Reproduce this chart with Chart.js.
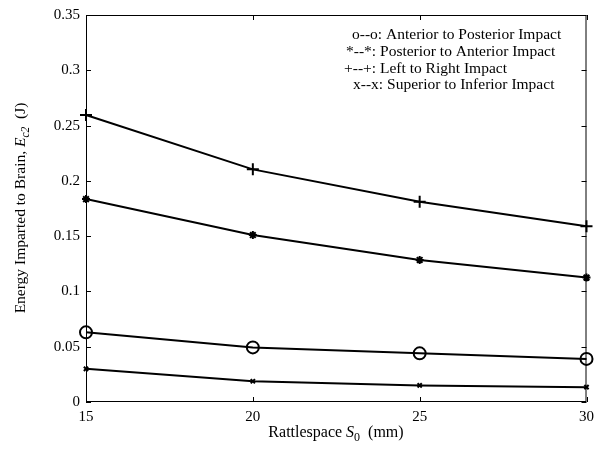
<!DOCTYPE html>
<html>
<head>
<meta charset="utf-8">
<script src="https://cdn.jsdelivr.net/npm/chart.js@4"></script>
<style>
  html, body { margin: 0; padding: 0; background: #fff; }
  #wrap { width: 600px; height: 450px; }
</style>
</head>
<body>
<div id="wrap"><canvas id="myChart"></canvas></div>
<script>
// rattlespace (mm)
var rattlespace = [15, 20, 25, 30];
// energy imparted to brain (J)
var anteriorPosterior = [0.063, 0.0494, 0.044, 0.039];
var posteriorAnterior = [0.1835, 0.151, 0.1285, 0.1125];
var leftRight = [0.2595, 0.2104, 0.1812, 0.159];
var superiorInferior = [0.030, 0.0188, 0.015, 0.0134];
var seriesLabels = [
  'o--o: Anterior to Posterior Impact',
  '*--*: Posterior to Anterior Impact',
  '+--+: Left to Right Impact',
  'x--x: Superior to Inferior Impact'
];
var yTicks = [0, 0.05, 0.1, 0.15, 0.2, 0.25, 0.3, 0.35];
var xTicks = [15, 20, 25, 30];

var serif = "'Liberation Serif', 'DejaVu Serif', serif";

function points(ys) {
  return rattlespace.map(function (x, i) { return { x: x, y: ys[i] }; });
}

function series(label, ys, style, r) {
  return {
    label: label,
    data: points(ys),
    borderColor: '#000',
    backgroundColor: style === 'circle' ? 'rgba(0,0,0,0)' : '#000',
    pointBorderColor: '#000',
    borderWidth: 2,
    pointBorderWidth: 2,
    pointStyle: style,
    pointRadius: r,
    clip: false,
    tension: 0
  };
}

// box, inward ticks, legend text and rich axis titles
var decor = {
  id: 'decor',
  afterDraw: function (chart) {
    var c = chart.ctx, a = chart.chartArea;
    var xs = chart.scales.x, ys = chart.scales.y;
    c.save();
    c.strokeStyle = '#000';
    c.lineWidth = 1;
    c.strokeRect(a.left + 0.5, a.top + 0.5, a.right - a.left - 1, a.bottom - a.top - 1);
    c.beginPath();
    yTicks.forEach(function (v) {
      var y = Math.round(ys.getPixelForValue(v)) + 0.5;
      c.moveTo(a.left, y); c.lineTo(a.left + 5, y);
      c.moveTo(a.right, y); c.lineTo(a.right - 5, y);
    });
    xTicks.forEach(function (v) {
      var x = Math.round(xs.getPixelForValue(v)) + 0.5;
      c.moveTo(x, a.bottom); c.lineTo(x, a.bottom - 5);
      c.moveTo(x, a.top); c.lineTo(x, a.top + 5);
    });
    c.stroke();

    // legend
    c.fillStyle = '#000';
    c.font = '15.5px ' + serif;
    c.textBaseline = 'middle';
    var lx = [352, 346, 344, 353], ly = [35, 52, 68.5, 85];
    seriesLabels.forEach(function (t, i) { c.fillText(t, lx[i], ly[i]); });

    // x title: Rattlespace S0 (mm)
    var cx = 336, by = 437;
    var p1 = 'Rattlespace ', p4 = '  (mm)';
    c.font = '16px ' + serif;
    var w1 = c.measureText(p1).width, w4 = c.measureText(p4).width;
    c.font = 'italic 16px ' + serif;
    var w2 = c.measureText('S').width;
    c.font = '12px ' + serif;
    var w3 = c.measureText('0').width;
    var x0 = cx - (w1 + w2 + w3 + w4) / 2;
    c.textBaseline = 'alphabetic';
    c.font = '16px ' + serif; c.fillText(p1, x0, by);
    c.font = 'italic 16px ' + serif; c.fillText('S', x0 + w1, by);
    c.font = '12px ' + serif; c.fillText('0', x0 + w1 + w2, by + 4);
    c.font = '16px ' + serif; c.fillText(p4, x0 + w1 + w2 + w3, by);

    // y title: Energy Imparted to Brain, Ec2 (J)
    c.translate(25, 208);
    c.rotate(-Math.PI / 2);
    var q1 = 'Energy Imparted to Brain, ', q4 = '  (J)';
    c.font = '15.5px ' + serif;
    var v1 = c.measureText(q1).width, v4 = c.measureText(q4).width;
    c.font = 'italic 15.5px ' + serif;
    var v2 = c.measureText('E').width;
    c.font = 'italic 11.5px ' + serif;
    var v3 = c.measureText('c2').width;
    var s0 = -(v1 + v2 + v3 + v4) / 2;
    c.font = '15.5px ' + serif; c.fillText(q1, s0, 0);
    c.font = 'italic 15.5px ' + serif; c.fillText('E', s0 + v1, 0);
    c.font = 'italic 11.5px ' + serif; c.fillText('c2', s0 + v1 + v2, 4);
    c.font = '15.5px ' + serif; c.fillText(q4, s0 + v1 + v2 + v3, 0);
    c.restore();
  }
};

var ctx = document.getElementById('myChart').getContext('2d');
var myChart = new Chart(ctx, {
  type: 'line',
  data: {
    datasets: [
      series(seriesLabels[0], anteriorPosterior, 'circle', 6),
      series(seriesLabels[1], posteriorAnterior, 'star', 4),
      series(seriesLabels[2], leftRight, 'cross', 6),
      series(seriesLabels[3], superiorInferior, 'crossRot', 3)
    ]
  },
  options: {
    responsive: true,
    maintainAspectRatio: false,
    animation: false,
    layout: { padding: { left: 0, right: 13, top: 11, bottom: 0 } },
    plugins: {
      legend: { display: false },
      tooltip: { enabled: false }
    },
    scales: {
      x: {
        type: 'linear',
        min: 15,
        max: 30,
        afterFit: function (s) { s.height = 48; },
        afterBuildTicks: function (s) { s.ticks = xTicks.map(function (v) { return { value: v }; }); },
        grid: { display: false, drawTicks: false },
        border: { display: false },
        ticks: { color: '#000', padding: 6, maxRotation: 0, font: { family: serif, size: 15 } }
      },
      y: {
        min: 0,
        max: 0.35,
        afterFit: function (s) { s.width = 86; },
        afterBuildTicks: function (s) { s.ticks = yTicks.map(function (v) { return { value: v }; }); },
        grid: { display: false, drawTicks: false },
        border: { display: false },
        ticks: {
          color: '#000',
          padding: 6,
          font: { family: serif, size: 15 },
          callback: function (v) { return String(Number(v.toFixed(2))); }
        }
      }
    }
  },
  plugins: [decor]
});
</script>
</body>
</html>
